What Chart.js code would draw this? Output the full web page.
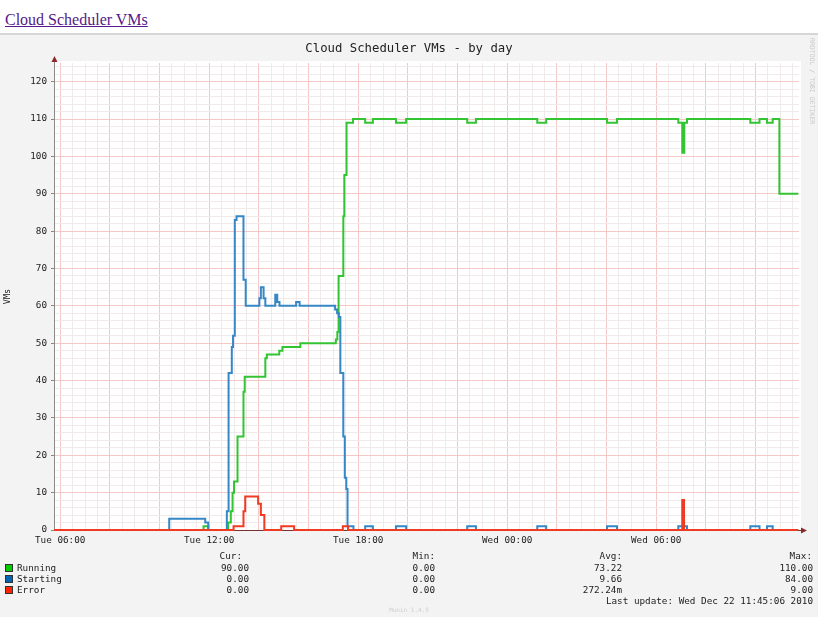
<!DOCTYPE html>
<html><head><meta charset="utf-8">
<script src="https://cdn.jsdelivr.net/npm/chart.js@4/dist/chart.umd.min.js"></script>
<style>
html,body{margin:0;padding:0;background:#fff;width:818px;height:617px;overflow:hidden;position:relative;}
#link{position:absolute;left:5px;top:11px;font:16px "Liberation Serif","Times New Roman",serif;color:#551A8B;text-decoration:underline;white-space:nowrap;}
#img{position:absolute;left:0;top:33px;width:818px;height:584px;background:#f3f3f3;border-top:2px solid #d6d6d6;box-sizing:border-box;}
#wrap{position:absolute;left:0;top:34px;width:818px;height:583px;}
.t{position:absolute;font-family:"DejaVu Sans Mono",monospace;font-size:9.3px;color:#222;white-space:pre;line-height:11px;height:11px;}
.r{text-align:right;}
.sq{position:absolute;width:6px;height:6px;border:1px solid #333;}
</style></head>
<body>
<div id="link">Cloud Scheduler VMs</div>
<div id="img"></div>
<div id="wrap"><canvas id="c" width="818" height="583"></canvas></div>
<div class="t" style="left:0;width:818px;top:41px;font-size:12.3px;line-height:14px;height:14px;text-align:center;">Cloud Scheduler VMs - by day</div>
<div class="t" style="left:808px;top:38px;font-size:6.5px;color:#c8c8c8;writing-mode:vertical-rl;line-height:8px;height:auto;width:8px;">RRDTOOL / TOBI OETIKER</div>
<div id="legend"></div>
<div class="t" style="left:0;width:818px;top:606px;font-size:6px;line-height:8px;color:#cfcfcf;text-align:center;">Munin 1.4.5</div>
<script>
// ---- data (hours counted from Tue 00:00) ----
const xTickHours  = [6, 12, 18, 24, 30];
const xTickLabels = ['Tue 06:00', 'Tue 12:00', 'Tue 18:00', 'Wed 00:00', 'Wed 06:00'];
const yTickLabels = [0, 10, 20, 30, 40, 50, 60, 70, 80, 90, 100, 110, 120];

const runningHours = [5.75, 11.77, 11.96, 12.76, 12.87, 12.94, 13.00, 13.14, 13.38, 13.43, 14.26, 14.32, 14.82, 14.95, 15.67, 17.10, 17.16, 17.21, 17.40, 17.44, 17.53, 17.79, 18.28, 18.59, 19.52, 19.93, 22.39, 22.74, 25.21, 25.57, 28.02, 28.42, 30.89, 31.05, 31.13, 31.24, 33.79, 34.16, 34.46, 34.69, 34.96, 35.72];
const runningVMs   = [0, 1, 0, 2, 5, 10, 13, 25, 37, 41, 46, 47, 48, 49, 50, 51, 53, 68, 84, 95, 109, 110, 109, 110, 109, 110, 109, 110, 109, 110, 109, 110, 109, 101, 109, 110, 109, 110, 109, 110, 90, 90];

const startingHours = [5.75, 10.39, 11.84, 11.96, 12.71, 12.78, 12.91, 12.96, 13.03, 13.10, 13.38, 13.47, 14.02, 14.08, 14.19, 14.26, 14.66, 14.74, 14.83, 15.50, 15.64, 17.07, 17.15, 17.22, 17.28, 17.40, 17.46, 17.52, 17.57, 17.81, 18.28, 18.59, 19.52, 19.93, 22.39, 22.74, 25.21, 25.57, 28.02, 28.42, 30.89, 31.24, 33.79, 34.16, 34.46, 34.69, 35.72];
const startingVMs   = [0, 3, 2, 0, 5, 42, 49, 52, 83, 84, 67, 60, 62, 65, 62, 60, 63, 61, 60, 61, 60, 59, 58, 57, 42, 25, 14, 11, 1, 0, 1, 0, 1, 0, 1, 0, 1, 0, 1, 0, 1, 0, 1, 0, 1, 0, 0];

const errorHours = [5.75, 12.98, 13.38, 13.45, 13.97, 14.08, 14.22, 14.90, 15.42, 17.38, 17.59, 31.05, 31.12, 35.72];
const errorVMs   = [0, 1, 5, 9, 7, 4, 0, 1, 0, 1, 0, 8, 0, 0];

const seriesNames = ['Running', 'Starting', 'Error'];
const curValues = ['90.00', '0.00', '0.00'];
const minValues = ['0.00', '0.00', '0.00'];
const avgValues = ['73.22', '9.66', '272.24m'];
const maxValues = ['110.00', '84.00', '9.00'];
const lastUpdate = 'Last update: Wed Dec 22 11:45:06 2010';

// ---- styles ----
const lineColors = ['#33c433', '#3587c6', '#f03a22'];
const swatchColors = ['#00cc00', '#0066b3', '#ff2200'];
const MONO = '"DejaVu Sans Mono", monospace';
const MINOR = '#f1eaea';
const MAJOR = '#f5c8c8';

// legend (text)
(function () {
  const L = document.getElementById('legend');
  function add(txt, style, cls) {
    const d = document.createElement('div');
    d.className = 't' + (cls ? ' ' + cls : '');
    d.textContent = txt;
    d.setAttribute('style', style);
    L.appendChild(d);
  }
  const cols = [[curValues, 249, 'Cur:', 242], [minValues, 435, 'Min:', 435], [avgValues, 622, 'Avg:', 622], [maxValues, 813, 'Max:', 812]];
  cols.forEach(c => add(c[2], 'right:' + (818 - c[3]) + 'px;top:550px;', 'r'));
  seriesNames.forEach((n, i) => {
    const yc = 568 + i * 11;
    const sq = document.createElement('div');
    sq.className = 'sq';
    sq.style.left = '5px'; sq.style.top = (yc - 4) + 'px'; sq.style.background = swatchColors[i];
    L.appendChild(sq);
    add(n, 'left:17px;top:' + (yc - 6) + 'px;');
    cols.forEach(c => add(c[0][i], 'right:' + (818 - c[1]) + 'px;top:' + (yc - 6) + 'px;', 'r'));
  });
  add(lastUpdate, 'right:5px;top:595px;', 'r');
})();

function pts(h, v) { return h.map((x, i) => ({ x: x, y: v[i] })); }

const canvasBg = {
  id: 'canvasBg',
  beforeDraw(chart) {
    const { ctx, chartArea: a } = chart;
    ctx.save();
    ctx.fillStyle = '#ffffff';
    ctx.fillRect(a.left, a.top - 2, a.right - a.left + 2, a.bottom - a.top + 2);
    ctx.restore();
  }
};

const arrows = {
  id: 'arrows',
  afterDraw(chart) {
    const { ctx, chartArea: a } = chart;
    ctx.save();
    ctx.strokeStyle = '#8c8c8c'; ctx.lineWidth = 1;
    ctx.beginPath(); ctx.moveTo(a.left + 0.5, a.top); ctx.lineTo(a.left + 0.5, a.top - 3); ctx.stroke();
    ctx.strokeStyle = '#7a3030';
    ctx.beginPath(); ctx.moveTo(a.right - 1, a.bottom + 0.5); ctx.lineTo(a.right + 3, a.bottom + 0.5); ctx.stroke();
    ctx.fillStyle = '#8a2a2a';
    ctx.beginPath(); ctx.moveTo(a.left + 0.5, a.top - 7); ctx.lineTo(a.left - 2.5, a.top - 1); ctx.lineTo(a.left + 3.5, a.top - 1); ctx.closePath(); ctx.fill();
    ctx.beginPath(); ctx.moveTo(a.right + 8, a.bottom + 0.5); ctx.lineTo(a.right + 2, a.bottom - 2.5); ctx.lineTo(a.right + 2, a.bottom + 3.5); ctx.closePath(); ctx.fill();
    ctx.restore();
  }
};

const xGridValues = []; for (let h = 6; h <= 35.5; h += 0.5) xGridValues.push(h);
const yGridValues = []; for (let v = 0; v <= 124; v += 2) yGridValues.push(v);

new Chart(document.getElementById('c'), {
  type: 'line',
  data: {
    datasets: [
      { label: seriesNames[0], data: pts(runningHours, runningVMs), borderColor: lineColors[0], order: 2 },
      { label: seriesNames[1], data: pts(startingHours, startingVMs), borderColor: lineColors[1], order: 1 },
      { label: seriesNames[2], data: pts(errorHours, errorVMs), borderColor: lineColors[2], order: 0 }
    ]
  },
  options: {
    responsive: false,
    animation: false,
    events: [],
    devicePixelRatio: 1,
    layout: { padding: { top: 29, right: 19, left: 0, bottom: 0 } },
    elements: {
      line: { borderWidth: 2, stepped: true, tension: 0, fill: false },
      point: { radius: 0 }
    },
    datasets: { line: { clip: 4 } },
    plugins: { legend: { display: false }, title: { display: false }, tooltip: { enabled: false } },
    scales: {
      x: {
        type: 'linear', min: 5.75, max: 35.75,
        afterBuildTicks: s => { s.ticks = xGridValues.map(v => ({ value: v })); },
        afterFit: s => { s.height = 87; },
        ticks: {
          autoSkip: false, maxRotation: 0, padding: 5, color: '#222',
          font: { family: MONO, size: 9.3 },
          callback: v => { const i = xTickHours.indexOf(v); return i >= 0 ? xTickLabels[i] : ''; }
        },
        grid: {
          drawTicks: false,
          color: c => (c.tick && Math.abs(c.tick.value % 2) < 1e-6) ? MAJOR : MINOR,
          lineWidth: 1
        },
        border: { display: true, color: '#7a3030', width: 1 }
      },
      y: {
        type: 'linear', min: 0, max: 125,
        afterBuildTicks: s => { s.ticks = yGridValues.map(v => ({ value: v })); },
        afterFit: s => { s.width = 54; },
        ticks: {
          autoSkip: false, padding: 4, color: '#222',
          font: { family: MONO, size: 9.3 },
          callback: v => yTickLabels.includes(v) ? String(v) : ''
        },
        grid: {
          drawTicks: true, tickLength: 3,
          color: c => (c.tick && c.tick.value % 10 === 0) ? MAJOR : MINOR,
          tickColor: c => (c.tick && c.tick.value % 10 === 0) ? '#888' : 'rgba(0,0,0,0)'
        },
        border: { display: true, color: '#8c8c8c', width: 1 },
        title: { display: true, text: 'VMs', color: '#222', font: { family: MONO, size: 8.5 }, padding: { top: 3, bottom: 0 } }
      }
    }
  },
  plugins: [canvasBg, arrows]
});
</script>
</body></html>
